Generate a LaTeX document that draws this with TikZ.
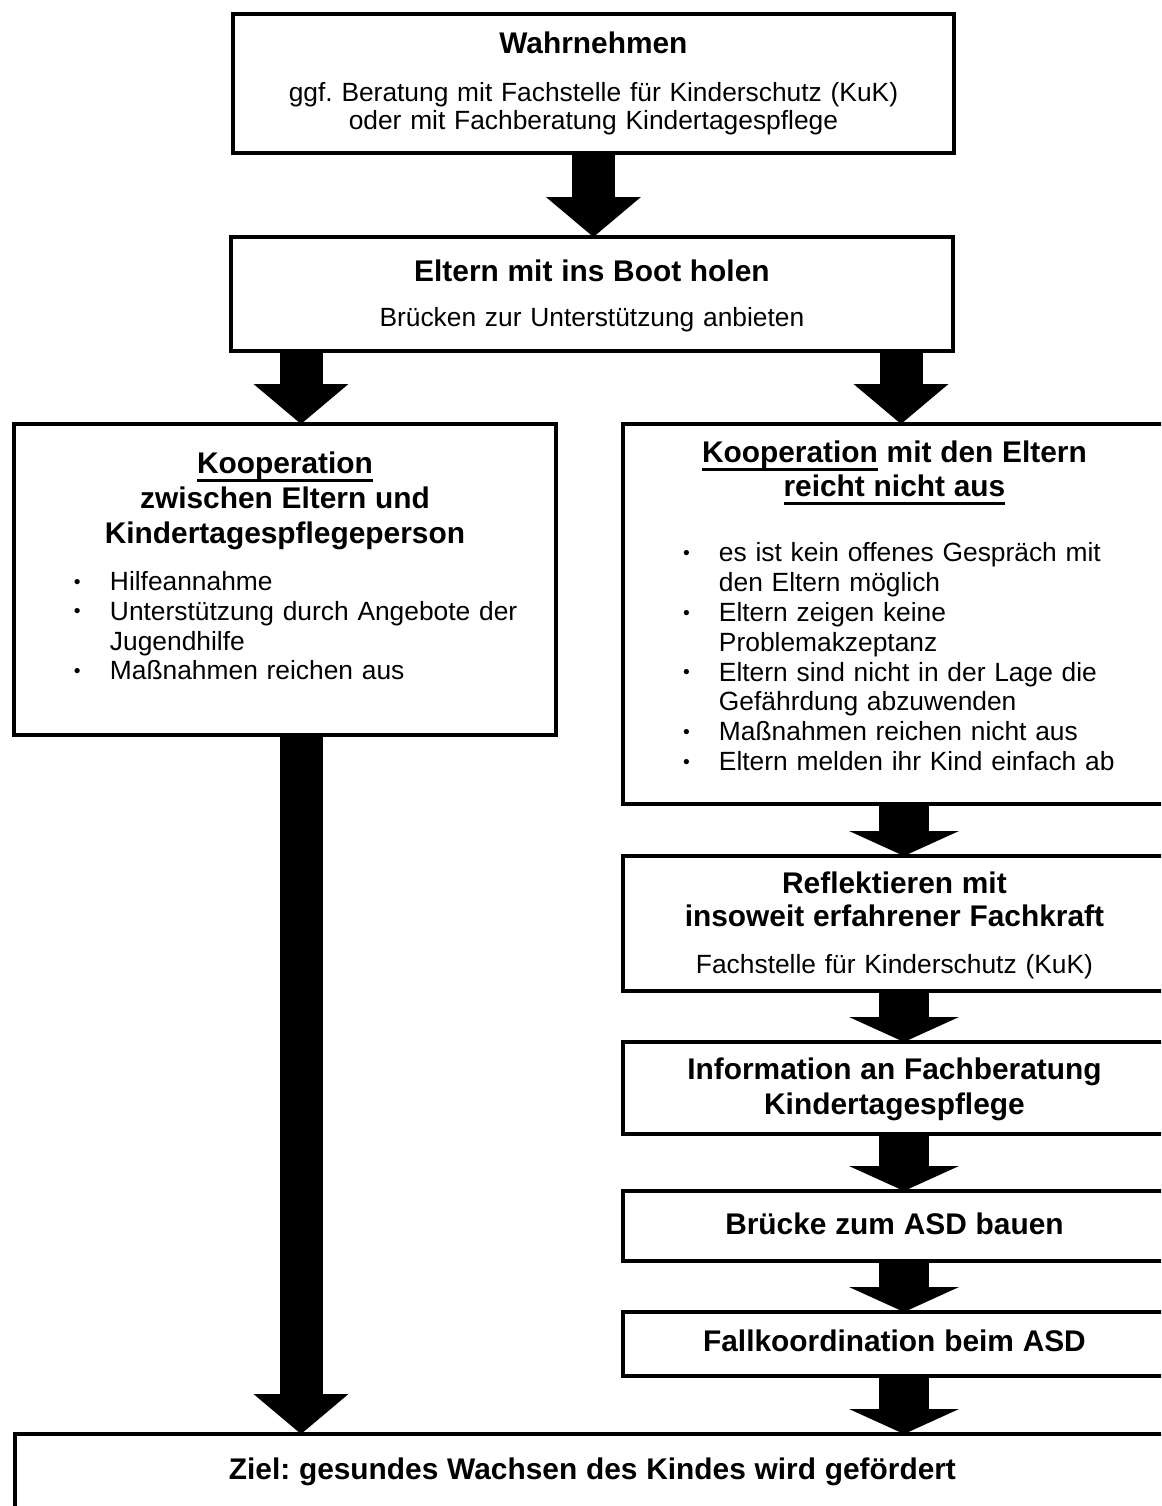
\documentclass[tikz,border=0pt]{standalone}
\usepackage{fontspec}
\setmainfont{Liberation Sans}
\usetikzlibrary{arrows.meta,positioning}
\frenchspacing

\newcommand{\kopfschrift}{\fontsize{17pt}{17pt}\selectfont\bfseries}
\newcommand{\grundschrift}{\fontsize{15pt}{17pt}\selectfont\mdseries}
\newcommand{\unter}[1]{\leavevmode\setbox0\hbox{#1}\rlap{\rule[-4.4pt]{\wd0}{1.4pt}}\box0\relax}
\newcommand{\kpunkt}{\raisebox{1.3pt}{\fontsize{11pt}{11pt}\selectfont\textbullet}}
\newcommand{\punkt}[1]{\makebox[\linewidth][l]{\hspace*{1.2cm}\makebox[0.72cm][l]{\kpunkt}#1}}
\newcommand{\weiter}[1]{\makebox[\linewidth][l]{\hspace*{1.92cm}#1}}

\begin{document}
\begin{tikzpicture}[x=0.02cm,y=-0.02cm,
		box/.style={draw,line width=0.09cm,anchor=north west,inner xsep=0pt,inner ysep=0pt,
			outer sep=0pt,align=center,font=\grundschrift},
		pfeil/.style={line width=0.86cm,-{Triangle[width=1.9cm,length=0.8cm,line width=0pt]}},
		pfeilk/.style={line width=1.0cm,-{Triangle[width=2.2cm,length=0.5cm,line width=0pt]}}
	]
	\useasboundingbox (0,0) rectangle (1161,1506);
	\clip (0,0) rectangle (1161,1506);

	% the top boxes
	\node[box,text width=14.42cm,text height=0.8cm,text depth=1.98cm] (wahr) at (233,14)
		{\kopfschrift Wahrnehmen\\[10.2pt]
		\grundschrift ggf. Beratung mit Fachstelle für Kinderschutz (KuK)\\[-1.1pt]
		oder mit Fachberatung Kindertagespflege};
	\node[box,text width=14.44cm,text height=0.9cm,text depth=1.38cm] (eltern) at (231,237)
		{\kopfschrift Eltern mit ins Boot holen\\[8.5pt]
		\grundschrift Brücken zur Unterstützung anbieten};

	% the left branch
	\node[box,text width=10.84cm,text height=1.0cm,text depth=5.22cm] (koop) at (14,424)
		{\kopfschrift\unter{Kooperation}\\[2.8pt]zwischen Eltern und\\[2.8pt]Kindertagespflegeperson\\[9.6pt]
		\grundschrift\punkt{Hilfeannahme}\\
		\punkt{Unterstützung durch Angebote der}\\
		\weiter{Jugendhilfe}\\
		\punkt{Maßnahmen reichen aus}};

	% the right branch
	\node[box,text width=10.86cm,text height=0.78cm,text depth=6.82cm] (nichtaus) at (623,424)
		{\kopfschrift\unter{Kooperation} mit den Eltern\\[2.3pt]\unter{reicht nicht aus}\\[19.8pt]
		\grundschrift\punkt{es ist kein offenes Gespräch mit}\\
		\weiter{den Eltern möglich}\\
		\punkt{Eltern zeigen keine}\\
		\weiter{Problemakzeptanz}\\
		\punkt{Eltern sind nicht in der Lage die}\\
		\weiter{Gefährdung abzuwenden}\\
		\punkt{Maßnahmen reichen nicht aus}\\
		\punkt{Eltern melden ihr Kind einfach ab}};
	\node[box,text width=10.86cm,text height=0.74cm,text depth=1.96cm] (reflekt) at (623,856)
		{\kopfschrift Reflektieren mit\\[2.3pt]insoweit erfahrener Fachkraft\\[9.6pt]
		\grundschrift Fachstelle für Kinderschutz (KuK)};
	\node[box,text width=10.86cm,text height=0.74cm,text depth=1.1cm] (info) at (623,1042)
		{\kopfschrift Information an Fachberatung\\[3.4pt]Kindertagespflege};
	\node[box,text width=10.86cm,text height=0.86cm,text depth=0.54cm] (bruecke) at (623,1191)
		{\kopfschrift Brücke zum ASD bauen};
	\node[box,text width=10.86cm,text height=0.78cm,text depth=0.5cm] (fallko) at (623,1312)
		{\kopfschrift Fallkoordination beim ASD};

	% the goal
	\node[box,text width=23.1cm,text height=0.9cm,text depth=2cm] (ziel) at (15,1434)
		{\kopfschrift Ziel: gesundes Wachsen des Kindes wird gefördert};

	% the arrows
	\coordinate (links) at (301,0);
	\coordinate (rechts) at (901,0);
	\coordinate (rechtsk) at (904,0);
	\draw[pfeil] (wahr.south) -- (wahr.south |- eltern.north);
	\draw[pfeil] (eltern.south -| links) -- (koop.north -| links);
	\draw[pfeil] (eltern.south -| rechts) -- (nichtaus.north -| rechts);
	\draw[pfeil] (koop.south -| links) -- (ziel.north -| links);
	\draw[pfeilk] (nichtaus.south -| rechtsk) -- (reflekt.north -| rechtsk);
	\draw[pfeilk] (reflekt.south -| rechtsk) -- (info.north -| rechtsk);
	\draw[pfeilk] (info.south -| rechtsk) -- (bruecke.north -| rechtsk);
	\draw[pfeilk] (bruecke.south -| rechtsk) -- (fallko.north -| rechtsk);
	\draw[pfeilk] (fallko.south -| rechtsk) -- (ziel.north -| rechtsk);
\end{tikzpicture}
\end{document}
